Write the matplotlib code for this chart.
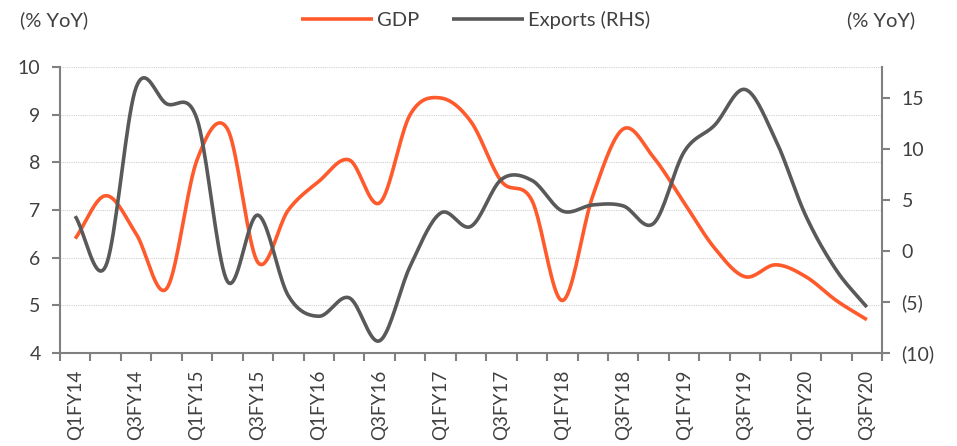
import numpy as np
import matplotlib
matplotlib.use("Agg")
import matplotlib.pyplot as plt

categories = ["Q1FY14", "Q2FY14", "Q3FY14", "Q4FY14",
              "Q1FY15", "Q2FY15", "Q3FY15", "Q4FY15",
              "Q1FY16", "Q2FY16", "Q3FY16", "Q4FY16",
              "Q1FY17", "Q2FY17", "Q3FY17", "Q4FY17",
              "Q1FY18", "Q2FY18", "Q3FY18", "Q4FY18",
              "Q1FY19", "Q2FY19", "Q3FY19", "Q4FY19",
              "Q1FY20", "Q2FY20", "Q3FY20"]
gdp = [6.4, 7.3, 6.5, 5.35, 8.05, 8.7, 5.9, 7.0, 7.6, 8.05, 7.15, 9.0, 9.35,
       8.85, 7.6, 7.2, 5.1, 7.3, 8.7, 8.1, 7.15, 6.2, 5.6, 5.85, 5.6, 5.1, 4.7]
exports = [3.4, -1.5, 16.0, 14.4, 12.9, -3.0, 3.5, -4.4, -6.4, -4.6, -8.8,
           -1.5, 3.7, 2.4, 7.0, 6.9, 3.9, 4.5, 4.4, 2.7, 9.7, 12.3, 15.8,
           10.9, 3.4, -1.9, -5.5]
left_ticks = [4, 5, 6, 7, 8, 9, 10]
right_ticks = [-10, -5, 0, 5, 10, 15]
right_labels = ["(10)", "(5)", "0", "5", "10", "15"]

FONT = "Lato"
TXT = "#404040"
ORANGE = "#FF5A2C"
GREY = "#595959"
SPINE = "#808080"


def smooth(xs, ys, n=20):
    # Catmull-Rom style rendering of a smoothed line through the data points
    xs = np.asarray(xs, float)
    ys = np.asarray(ys, float)
    px = np.concatenate([[2 * xs[0] - xs[1]], xs, [2 * xs[-1] - xs[-2]]])
    py = np.concatenate([[2 * ys[0] - ys[1]], ys, [2 * ys[-1] - ys[-2]]])
    ox, oy = [], []
    t = np.linspace(0, 1, n, endpoint=False)
    for i in range(1, len(px) - 2):
        p0, p1, p2, p3 = py[i - 1], py[i], py[i + 1], py[i + 2]
        x0, x1, x2, x3 = px[i - 1], px[i], px[i + 1], px[i + 2]
        b0 = p1
        b1 = p1 + (p2 - p0) / 6
        b2 = p2 - (p3 - p1) / 6
        b3 = p2
        c0 = x1
        c1 = x1 + (x2 - x0) / 6
        c2 = x2 - (x3 - x1) / 6
        c3 = x2
        oy.extend((1 - t) ** 3 * b0 + 3 * (1 - t) ** 2 * t * b1 + 3 * (1 - t) * t ** 2 * b2 + t ** 3 * b3)
        ox.extend((1 - t) ** 3 * c0 + 3 * (1 - t) ** 2 * t * c1 + 3 * (1 - t) * t ** 2 * c2 + t ** 3 * c3)
    ox.append(xs[-1])
    oy.append(ys[-1])
    return np.array(ox), np.array(oy)


plt.rcParams['font.family'] = [FONT, 'DejaVu Sans']

fig = plt.figure(figsize=(9.57, 4.46), dpi=100)
ax = fig.add_axes([0.0627, 0.2085, 0.859, 0.6413])
ax2 = ax.twinx()

x = np.arange(len(categories))
ax.set_xlim(-0.5, len(categories) - 0.5)
ax.set_ylim(4, 10)
ax2.set_ylim(-10, 18)

for v in left_ticks[1:]:
    ax.axhline(v, color="#d0d0d0", lw=0.8, ls=(0, (1, 1)), zorder=0)

sx, sy = smooth(x, gdp)
l1, = ax.plot(sx, sy, color=ORANGE, lw=2.6, solid_capstyle="butt", label="GDP", zorder=3)
ex, ey = smooth(x, exports)
l2, = ax2.plot(ex, ey, color=GREY, lw=2.6, solid_capstyle="butt", label="Exports (RHS)", zorder=3)

# ticks
ax.set_yticks(left_ticks)
ax.set_yticklabels([str(v) for v in left_ticks], fontsize=14, color=TXT)
ax2.set_yticks(right_ticks)
ax2.set_yticklabels(right_labels, fontsize=14, color=TXT)

ax.set_xticks(x[::2])
ax.set_xticklabels(categories[::2], rotation=90, fontsize=13.5, color=TXT)
ax.set_xticks(np.arange(-0.5, len(categories), 1.0), minor=True)
ax.tick_params(axis="x", which="major", length=0, pad=12)
ax.tick_params(axis="x", which="minor", length=6, width=1.5, color=SPINE, direction="out")
ax.tick_params(axis="y", length=6, width=1.5, color=SPINE, pad=8)
ax2.tick_params(axis="y", length=6, width=1.5, color=SPINE, pad=8)

for a in (ax, ax2):
    a.spines["top"].set_visible(False)
    for s in ("left", "right", "bottom"):
        a.spines[s].set_color(SPINE)
        a.spines[s].set_linewidth(1.5)
ax.spines["right"].set_visible(False)
ax2.spines["left"].set_visible(False)
ax2.spines["bottom"].set_visible(False)

fig.text(20 / 957, 1 - 20 / 446, "(% YoY)", fontsize=14.5, color=TXT, va="center", ha="left")
fig.text(915 / 957, 1 - 20 / 446, "(% YoY)", fontsize=14.5, color=TXT, va="center", ha="right")

leg = fig.legend(handles=[l1, l2], loc="center", bbox_to_anchor=(0.497, 1 - 20 / 446), ncol=2,
                 frameon=False, fontsize=14.5, handlelength=3.6, handletextpad=0.2, columnspacing=1.6)
for t in leg.get_texts():
    t.set_color(TXT)

fig.savefig("out.png", dpi=100)
